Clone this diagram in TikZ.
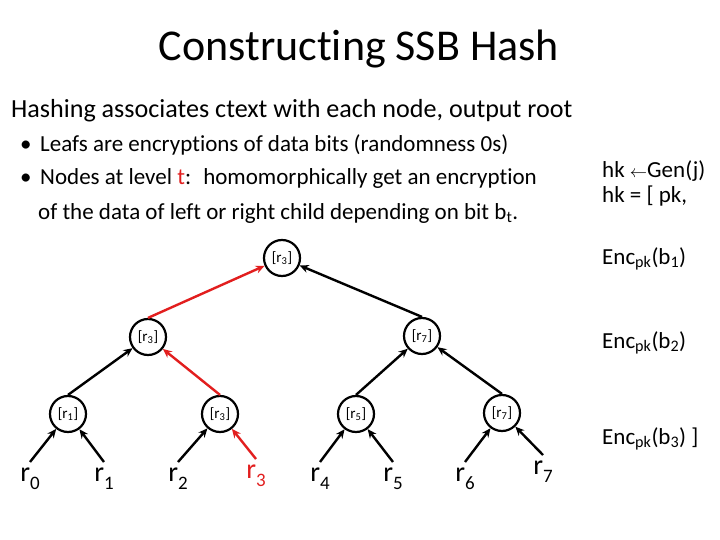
\documentclass[tikz,border=0pt]{standalone}
\usepackage{fontspec}
\setmainfont{Carlito}[Ligatures=NoCommon]
\usetikzlibrary{arrows.meta}
\definecolor{pathred}{RGB}{226,30,30}
\newcommand{\lsub}[1]{\raisebox{-0.55ex}{\fontsize{19}{19}\selectfont #1}}

\begin{document}
\begin{tikzpicture}[x=1pt, y=-1pt, every node/.style={inner sep=0pt},
	hnode/.style={circle, draw, line width=2.2pt, minimum size=36pt, font=\fontsize{15}{15}\selectfont},
	leaf/.style={anchor=north, inner sep=6pt, font=\fontsize{28}{28}\selectfont},
	harrow/.style={line width=2.4pt, -{Stealth[length=9pt,width=8pt]}},
	txt/.style={anchor=base west, font=\fontsize{23}{23}\selectfont}]
	\useasboundingbox[fill=white] (0,0) rectangle (720,540);
	% heading and bullets
	\node (title) [font=\fontsize{44}{44}\selectfont, anchor=base] at (359,61) {Constructing SSB Hash};
	\node (intro) [anchor=base west, font=\fontsize{26.1}{26.1}\selectfont] at (11,118) {Hashing associates ctext with each node, output root};
	\node (dot1) [txt] at (20,152) {\textbullet};
	\node (item1) [txt] at (40,152) {Leafs are encryptions of data bits (randomness 0s)};
	\node (dot2) [txt] at (20,185) {\textbullet};
	\node (item2) [txt] at (40,185) {Nodes at level \textcolor{pathred}{t}:~ homomorphically get an encryption};
	\node (item2b) [txt] at (38,219) {of the data of left or right child depending on bit b\textsubscript{t}.};
	% hash key
	\node (gen) [txt] at (602,178) {hk {\fontsize{16}{16}\selectfont$\leftarrow$}Gen(j)};
	\node (hk) [txt] at (602,203) {hk = [ pk,};
	\node (enc1) [txt] at (602,264) {Enc\textsubscript{pk}(b\textsubscript{1})};
	\node (enc2) [txt] at (602,348) {Enc\textsubscript{pk}(b\textsubscript{2})};
	\node (enc3) [txt] at (602,444) {Enc\textsubscript{pk}(b\textsubscript{3}) ]};
	% tree
	\node (root) [hnode] at (282,258) {[r\textsubscript{3}]};
	\node (m1) [hnode] at (148,337) {[r\textsubscript{3}]};
	\node (m2) [hnode] at (422,336) {[r\textsubscript{7}]};
	\node (b1) [hnode] at (68,414) {[r\textsubscript{1}]};
	\node (b2) [hnode] at (220,414) {[r\textsubscript{3}]};
	\node (b3) [hnode] at (356,414) {[r\textsubscript{5}]};
	\node (b4) [hnode] at (502,413) {[r\textsubscript{7}]};
	\node (l0) [leaf] at (30,462) {r\lsub{0}};
	\node (l1) [leaf] at (104,462) {r\lsub{1}};
	\node (l2) [leaf] at (178,462) {r\lsub{2}};
	\node (l3) [leaf, text=pathred] at (256,459) {r\lsub{3}};
	\node (l4) [leaf] at (320,462) {r\lsub{4}};
	\node (l5) [leaf] at (393,462) {r\lsub{5}};
	\node (l6) [leaf] at (465,462) {r\lsub{6}};
	\node (l7) [leaf] at (543,455) {r\lsub{7}};
	\draw[harrow] (l0.north) -- (b1);
	\draw[harrow] (l1.north) -- (b1);
	\draw[harrow] (l2.north) -- (b2);
	\draw[harrow, pathred] (l3.north) -- (b2);
	\draw[harrow] (l4.north) -- (b3);
	\draw[harrow] (l5.north) -- (b3);
	\draw[harrow] (l6.north) -- (b4);
	\draw[harrow] (l7.north) -- (b4);
	\draw[harrow] (b1.north) -- (m1);
	\draw[harrow, pathred] (b2.north) -- (m1);
	\draw[harrow] (b3.north) -- (m2);
	\draw[harrow] (b4.north) -- (m2);
	\draw[harrow, pathred] (m1.north) -- (root);
	\draw[harrow] (m2.north) -- (root);
\end{tikzpicture}
\end{document}
